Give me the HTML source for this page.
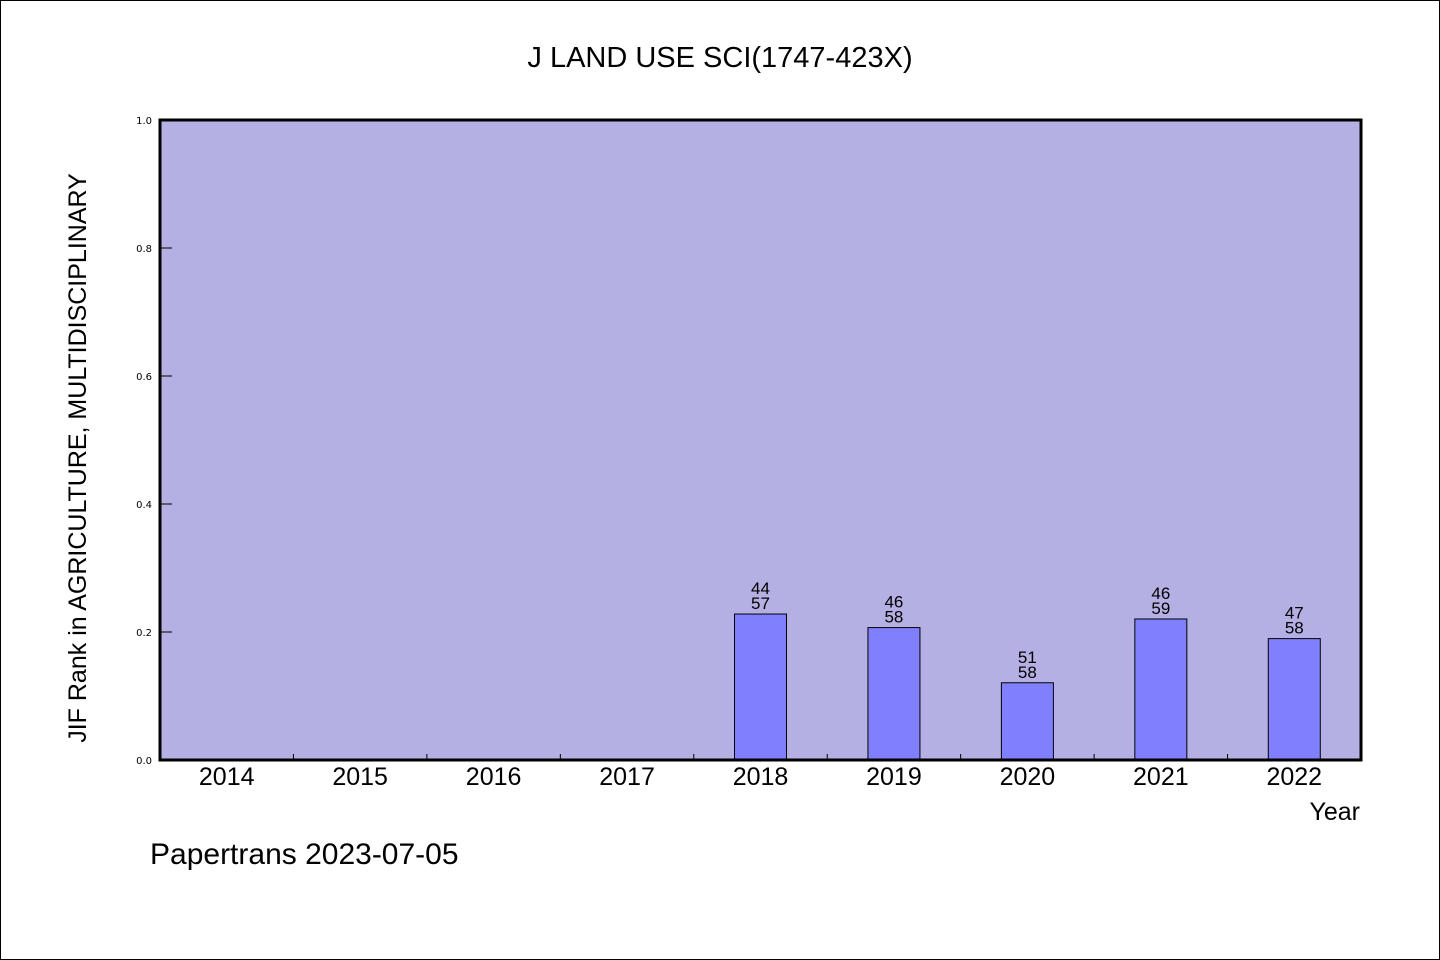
<!DOCTYPE html>
<html><head><meta charset="utf-8"><style>
body{margin:0;background:#fff}
svg{display:block}
</style></head><body>
<svg id="c" width="1440" height="960" xmlns="http://www.w3.org/2000/svg">
<rect x="0.5" y="0.5" width="1439" height="959" fill="#fff" stroke="#000"/>
<text x="720" y="67" text-anchor="middle" font-family="'WenQuanYi Zen Hei','Liberation Sans',sans-serif" font-size="29">J LAND USE SCI(1747-423X)</text>
<rect x="160" y="120" width="1201" height="640" fill="#b5b0e3"/>
<g id="marks"></g>
<rect x="160" y="120" width="1201" height="640" fill="none" stroke="#000" stroke-width="3"/>
<text transform="translate(86,458) rotate(-90)" text-anchor="middle" font-family="'WenQuanYi Zen Hei','Liberation Sans',sans-serif" font-size="25">JIF Rank in AGRICULTURE, MULTIDISCIPLINARY</text>
<text x="1360" y="820" text-anchor="end" font-family="'WenQuanYi Zen Hei','Liberation Sans',sans-serif" font-size="25">Year</text>
<text x="150" y="864" font-family="'WenQuanYi Zen Hei','Liberation Sans',sans-serif" font-size="30">Papertrans 2023-07-05</text>
</svg>
<script>
const years=["2014","2015","2016","2017","2018","2019","2020","2021","2022"];
const ranks=[null,null,null,null,44,46,51,46,47];
const totals=[null,null,null,null,57,58,58,59,58];
const yTicks=[0,0.2,0.4,0.6,0.8,1.0];
const NS="http://www.w3.org/2000/svg";
const X0=160,X1=1361,Y0=760,Y1=120;
const bw=(X1-X0)/years.length;
const xc=i=>X0+bw*(i+0.5);
const y=v=>Y0-(Y0-Y1)*v;
const g=document.getElementById('marks');
function mk(t,a){const e=document.createElementNS(NS,t);for(const k in a)e.setAttribute(k,a[k]);g.appendChild(e);return e;}
yTicks.forEach(v=>{
 const l=mk('line',{x1:X0,x2:X0+12,y1:y(v),y2:y(v),stroke:'#000','stroke-width':1});
 
 
 const t=mk('text',{x:X0-8,y:y(v)+4,'text-anchor':'end','font-family':'DejaVu Sans,sans-serif','font-size':10});
 t.textContent=v.toFixed(1);
 
 
});
years.forEach((yr,i)=>{
 if(i>0){const l=mk('line',{x1:X0+bw*i,x2:X0+bw*i,y1:Y0-6,y2:Y0,stroke:'#000'});
 
 }
 const t=mk('text',{x:xc(i),y:785,'text-anchor':'middle','font-family':"'WenQuanYi Zen Hei','Liberation Sans',sans-serif",'font-size':25});
 t.textContent=yr;
 
 
 if(ranks[i]!=null){
  const v=1-ranks[i]/totals[i];
  const r=mk('rect',{x:xc(i)-26,y:y(v),width:52,height:Y0-y(v),fill:'#8080ff',stroke:'#000','stroke-width':1});
  
  
  const a=mk('text',{x:xc(i),y:y(v)-20,'text-anchor':'middle','font-family':"'WenQuanYi Zen Hei','Liberation Sans',sans-serif",'font-size':17});
  a.textContent=ranks[i];
  
  
  const b=mk('text',{x:xc(i),y:y(v)-5,'text-anchor':'middle','font-family':"'WenQuanYi Zen Hei','Liberation Sans',sans-serif",'font-size':17});
  b.textContent=totals[i];
  
  
 }
});
</script>
</body></html>
